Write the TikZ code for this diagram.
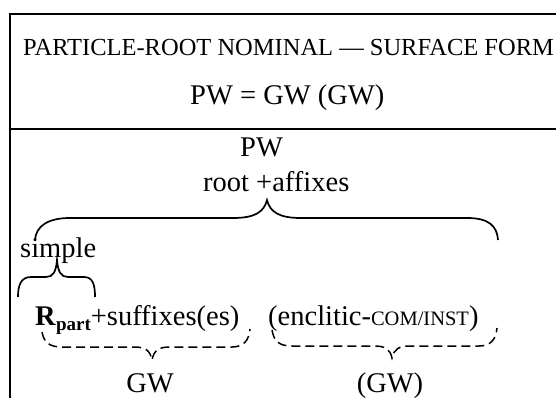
\documentclass[tikz,border=0pt]{standalone}
\usepackage{fontspec}
\setmainfont{Liberation Serif}
\tikzset{
  x=1pt, y=1pt,
  rule/.style={line width=2pt},
  txt/.style={inner sep=0pt, font=\fontsize{28.5}{32}\selectfont},
  head/.style={inner sep=0pt, font=\fontsize{24.5}{28}\selectfont},
  brace/.style={line width=1.7pt},
  dbrace/.style={line width=1.5pt, dash pattern=on 9pt off 5pt},
}
\newcommand{\smc}[1]{{\fontsize{20.5}{24}\selectfont #1}}
\begin{document}
\begin{tikzpicture}
\useasboundingbox (0,0) rectangle (556,-398);

% table frame: left side, top edge and the row divider
\coordinate (tl) at (10,-14);
\coordinate (tr) at (556,-14);
\coordinate (bl) at (10,-398);
\coordinate (ml) at (10,-129);
\coordinate (mr) at (556,-129);
\draw[rule] (tr) -- (tl) -- (bl);
\draw[rule] (ml) -- (mr);

% header row
\node[head, anchor=base west] (title) at (23,-56) {PARTICLE-ROOT NOMINAL — SURFACE FORM};
\node[txt, anchor=base west] (eq) at (190,-105) {PW = GW (GW)};

% body
\node[txt, anchor=base west] (pw) at (240,-157) {PW};
\node[txt, anchor=base west] (root) at (203,-191) {root +affixes};
\node[txt, anchor=base west] (simple) at (20,-257) {simple};
\node[txt, anchor=base west] (rpart) at (35,-325)
  {\textbf{R}\raisebox{-5pt}{\fontsize{19}{20}\selectfont\bfseries part}+suffixes(es)};
\node[txt, anchor=base west] (encl) at (268,-325) {(enclitic-\smc{COM/INST})};
\node[txt, anchor=base] (gw1) at (150,-392) {GW};
\node[txt, anchor=base] (gw2) at (390,-392) {(GW)};

% large brace under "root +affixes"
\draw[brace] (35,-240) .. controls (36,-226) and (48,-218) .. (70,-218)
  -- (233,-218) .. controls (255,-218) and (264,-212) .. (267,-200)
  .. controls (270,-212) and (279,-218) .. (301,-218)
  -- (467,-218) .. controls (489,-218) and (497,-226) .. (498,-240);

% small brace under "simple"
\draw[brace] (18,-297) .. controls (18,-285) and (21,-277) .. (31,-277)
  -- (46,-277) .. controls (53,-277) and (56,-272) .. (57,-260)
  .. controls (58,-272) and (61,-277) .. (68,-277)
  -- (84,-277) .. controls (93,-277) and (95,-285) .. (95,-297);

% dashed brace over GW
\draw[dbrace] (42,-332) .. controls (44,-343) and (50,-347) .. (62,-347)
  -- (134,-347) .. controls (145,-347) and (150,-350) .. (152,-360)
  .. controls (154,-350) and (159,-347) .. (170,-347)
  -- (232,-347) .. controls (244,-347) and (249,-340) .. (250,-329);

% dashed brace over (GW)
\draw[dbrace] (272,-330) .. controls (274,-342) and (280,-346) .. (292,-346)
  -- (374,-346) .. controls (385,-346) and (390,-349) .. (392,-358)
  .. controls (394,-349) and (399,-346) .. (410,-346)
  -- (479,-346) .. controls (491,-346) and (496,-339) .. (497,-328);
\end{tikzpicture}
\end{document}
